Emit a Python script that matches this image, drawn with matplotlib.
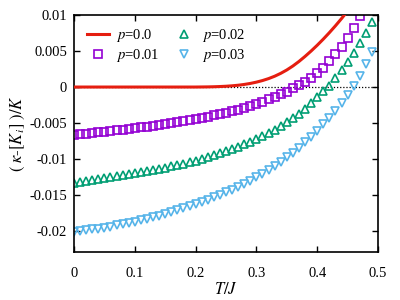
import matplotlib
matplotlib.use('Agg')
import matplotlib.pyplot as plt
import numpy as np

plt.rcParams['font.family'] = ['Liberation Serif', 'DejaVu Serif']
plt.rcParams['mathtext.fontset'] = 'stix'

# temperature grid (T/J), step 0.01
t_all = [round(0.01 * i, 2) for i in range(50)]

# p = 0.0 (solid line)
p00 = [0.0] * 21 + [
    0.00001, 0.00002, 0.00004, 0.00007, 0.00011, 0.00017, 0.00025, 0.00036,
    0.00050, 0.00068, 0.00090, 0.00117, 0.00150, 0.00190, 0.00237, 0.00292,
    0.00355, 0.00425, 0.00500, 0.00580, 0.00665, 0.00755, 0.00850, 0.00950,
    0.01055]

# p = 0.01 (squares)
p01 = [
    -0.00667, -0.00658, -0.00649, -0.00640, -0.00631, -0.00622, -0.00613,
    -0.00603, -0.00593, -0.00583, -0.00572, -0.00561, -0.00550, -0.00539,
    -0.00527, -0.00515, -0.00502, -0.00489, -0.00475, -0.00461, -0.00446,
    -0.00430, -0.00413, -0.00395, -0.00376, -0.00356, -0.00335, -0.00312,
    -0.00288, -0.00262, -0.00234, -0.00204, -0.00172, -0.00138, -0.00101,
    -0.00062, -0.00020, 0.00025, 0.00074, 0.00128, 0.00198, 0.00270,
    0.00360, 0.00460, 0.00560, 0.00680, 0.00820, 0.00990]

# p = 0.02 (up triangles)
p02 = [
    -0.01333, -0.01320, -0.01307, -0.01294, -0.01281, -0.01268, -0.01255,
    -0.01241, -0.01227, -0.01213, -0.01199, -0.01184, -0.01169, -0.01153,
    -0.01137, -0.01120, -0.01102, -0.01083, -0.01063, -0.01042, -0.01020,
    -0.00997, -0.00973, -0.00947, -0.00920, -0.00891, -0.00861, -0.00829,
    -0.00795, -0.00759, -0.00721, -0.00681, -0.00638, -0.00593, -0.00545,
    -0.00490, -0.00430, -0.00370, -0.00300, -0.00220, -0.00140, -0.00060,
    0.00020, 0.00120, 0.00230, 0.00350, 0.00470, 0.00610, 0.00750, 0.00900]

# p = 0.03 (down triangles)
p03 = [
    -0.02010, -0.01999, -0.01988, -0.01976, -0.01964, -0.01951, -0.01937,
    -0.01922, -0.01906, -0.01889, -0.01871, -0.01852, -0.01831, -0.01809,
    -0.01786, -0.01762, -0.01737, -0.01711, -0.01684, -0.01656, -0.01627,
    -0.01597, -0.01566, -0.01533, -0.01498, -0.01462, -0.01424, -0.01384,
    -0.01342, -0.01298, -0.01251, -0.01202, -0.01150, -0.01095, -0.01037,
    -0.00976, -0.00911, -0.00842, -0.00769, -0.00691, -0.00608, -0.00520,
    -0.00426, -0.00326, -0.00219, -0.00105, 0.00017, 0.00160, 0.00320,
    0.00490]

x_ticks = [0, 0.1, 0.2, 0.3, 0.4, 0.5]
x_tick_labels = ['0', '0.1', '0.2', '0.3', '0.4', '0.5']
y_ticks = [-0.02, -0.015, -0.01, -0.005, 0, 0.005, 0.01]
y_tick_labels = ['-0.02', '-0.015', '-0.01', '-0.005', '0', '0.005', '0.01']

fig = plt.figure(figsize=(4, 3), dpi=100)
ax = fig.add_axes([0.185, 0.16, 0.76, 0.79])

ax.axhline(0, color='black', ls=(0, (1, 1.5)), lw=0.9, zorder=1)
ax.plot(t_all[:len(p00)], p00, color='#e51e10', lw=2.2, label='$p$=0.0', zorder=3)
mk = dict(ls='none', mfc='none', ms=5.4, mew=1.2, zorder=2)
ax.plot(t_all[:len(p01)], p01, marker='s', color='#9400d3', label='$p$=0.01', **mk)
ax.plot(t_all[:len(p02)], p02, marker='^', color='#009e73', label='$p$=0.02', **mk)
ax.plot(t_all[:len(p03)], p03, marker='v', color='#56b4e9', label='$p$=0.03', **mk)

ax.set_xlim(0, 0.5)
ax.set_ylim(-0.0229, 0.01)
ax.set_xticks(x_ticks)
ax.set_xticklabels(x_tick_labels)
ax.set_yticks(y_ticks)
ax.set_yticklabels(y_tick_labels)
ax.tick_params(direction='in', length=4, width=1, top=True, right=True,
               labelsize=10.5)
ax.tick_params(axis='x', pad=11)
ax.tick_params(axis='y', pad=5)
for s in ax.spines.values():
    s.set_linewidth(1.2)

ax.set_xlabel('$T/J$', fontsize=12, labelpad=1)
ax.set_ylabel(r'$(\ \kappa$-$[K_i]\ )/K$', fontsize=12, labelpad=2)

ax.legend(ncol=2, loc='upper left', frameon=False, fontsize=10.5,
          handlelength=1.5, columnspacing=0.9, borderaxespad=0.4,
          handletextpad=0.5, labelspacing=0.25,
          bbox_to_anchor=(0.005, 1.0))

fig.savefig('out.png', dpi=100)
